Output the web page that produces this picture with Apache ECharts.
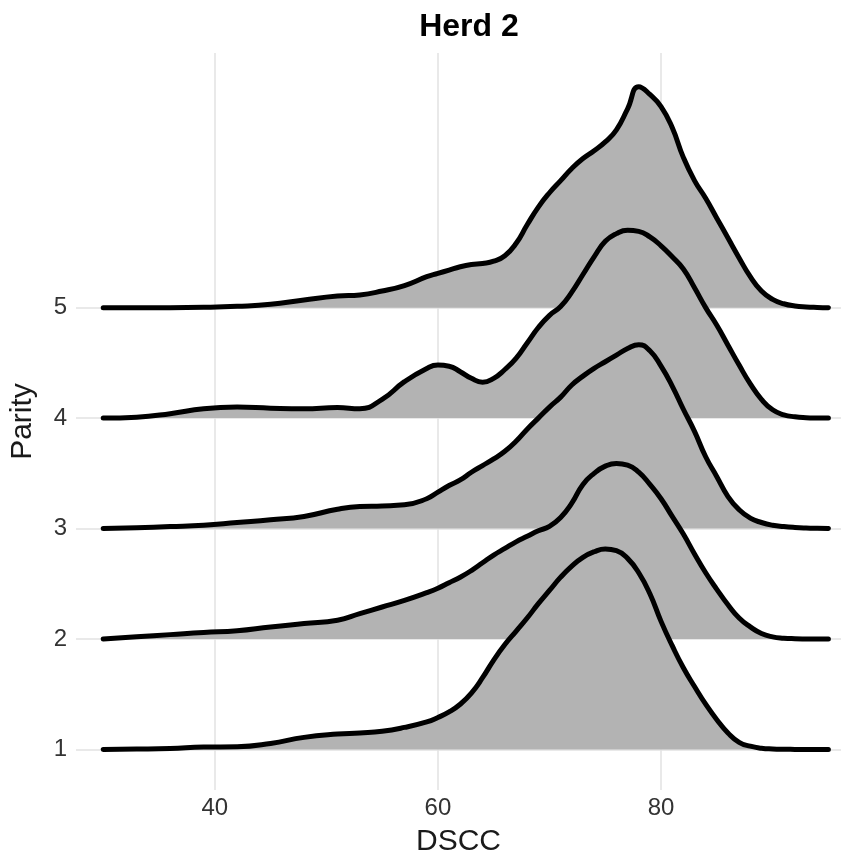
<!DOCTYPE html>
<html>
<head>
<meta charset="utf-8">
<title>Herd 2</title>
<script src="https://cdn.jsdelivr.net/npm/echarts@6/dist/echarts.min.js"></script>
<style>
  html, body { margin: 0; padding: 0; background: #fff; }
  #chart { width: 841px; height: 862px; }
</style>
</head>
<body>
<div id="chart"></div>
<script>
// DSCC grid shared by all density ridges
const dscc = [30, 33, 36, 39, 42, 45, 48, 51, 53, 55, 57, 59,
  60, 61, 62, 63, 64, 65, 66, 67, 68, 69, 70, 71, 72, 73, 74, 75, 76, 77, 78, 79,
  80, 81, 82, 83, 84, 85, 86, 87, 88, 89, 90, 91, 92, 93, 94, 95];

// Scaled density height of each parity ridge (in parity units above its baseline)
const parity1 = [0, 0.004, 0.01, 0.022, 0.025, 0.055, 0.11, 0.14, 0.15, 0.165, 0.2, 0.25,
  0.29, 0.34, 0.41, 0.51, 0.65, 0.81, 0.95, 1.07, 1.19, 1.32, 1.44, 1.56, 1.66, 1.74, 1.79, 1.815, 1.80, 1.73, 1.60, 1.41,
  1.16, 0.94, 0.74, 0.57, 0.41, 0.27, 0.15, 0.065, 0.03, 0.012, 0.005, 0.002, 0.001, 0, 0, 0];
const parity2 = [0, 0.02, 0.04, 0.06, 0.075, 0.11, 0.14, 0.17, 0.23, 0.29, 0.35, 0.42,
  0.46, 0.51, 0.56, 0.62, 0.69, 0.76, 0.82, 0.88, 0.93, 0.98, 1.02, 1.10, 1.23, 1.40, 1.50, 1.565, 1.59, 1.575, 1.51, 1.40,
  1.27, 1.11, 0.95, 0.77, 0.60, 0.45, 0.31, 0.19, 0.11, 0.05, 0.02, 0.008, 0.003, 0.001, 0, 0];
const parity3 = [0, 0.008, 0.018, 0.03, 0.055, 0.08, 0.11, 0.175, 0.2, 0.205, 0.215, 0.27,
  0.33, 0.39, 0.44, 0.51, 0.57, 0.63, 0.70, 0.79, 0.90, 1.00, 1.10, 1.19, 1.30, 1.38, 1.45, 1.51, 1.57, 1.63, 1.665, 1.61,
  1.47, 1.29, 1.08, 0.88, 0.65, 0.47, 0.29, 0.17, 0.095, 0.055, 0.03, 0.018, 0.01, 0.005, 0.002, 0];
const parity4 = [0, 0.008, 0.04, 0.085, 0.10, 0.09, 0.085, 0.095, 0.085, 0.17, 0.33, 0.45,
  0.48, 0.47, 0.42, 0.36, 0.325, 0.36, 0.44, 0.54, 0.68, 0.82, 0.93, 1.01, 1.14, 1.30, 1.46, 1.60, 1.67, 1.70, 1.69, 1.64,
  1.56, 1.46, 1.35, 1.18, 1.00, 0.84, 0.66, 0.48, 0.31, 0.17, 0.075, 0.03, 0.012, 0.004, 0.001, 0];
const parity5 = [0, 0, 0, 0.003, 0.012, 0.03, 0.07, 0.105, 0.115, 0.15, 0.2, 0.28,
  0.31, 0.34, 0.37, 0.39, 0.40, 0.42, 0.47, 0.58, 0.75, 0.91, 1.04, 1.15, 1.26, 1.35, 1.42, 1.50, 1.61, 1.80, 2.00, 1.93,
  1.82, 1.63, 1.36, 1.15, 0.99, 0.81, 0.63, 0.45, 0.28, 0.15, 0.075, 0.035, 0.015, 0.006, 0.002, 0];

const parityLevels = [1, 2, 3, 4, 5];
const ridges = [parity1, parity2, parity3, parity4, parity5];
const xTicks = [40, 60, 80];

const FONT = 'Liberation Sans, Arial, sans-serif';

// Upper ridges are drawn first so the lower ones overlap them
const series = [];
for (let k = parityLevels.length - 1; k >= 0; k--) {
  const level = parityLevels[k];
  const heights = ridges[k];
  series.push({
    name: 'Parity ' + level,
    type: 'line',
    smooth: 0.5,
    symbol: 'none',
    data: dscc.map((x, i) => [x, level + heights[i]]),
    lineStyle: { color: '#000', width: 5, cap: 'round', join: 'round' },
    areaStyle: { color: '#b3b3b3', opacity: 1, origin: level },
    silent: true
  });
}

const chart = echarts.init(document.getElementById('chart'), null, { renderer: 'canvas' });
chart.setOption({
  backgroundColor: '#ffffff',
  animation: false,
  title: {
    text: 'Herd 2',
    left: 464,
    top: 6,
    textAlign: 'center',
    textStyle: { fontFamily: FONT, fontWeight: 'bold', fontSize: 32, color: '#000' }
  },
  grid: { left: 73, right: 0, top: 53, bottom: 72, containLabel: false },
  xAxis: {
    type: 'value',
    min: 27.56,
    max: 96.13,
    name: 'DSCC',
    nameLocation: 'middle',
    nameGap: 37,
    nameTextStyle: { fontFamily: FONT, fontSize: 30, color: '#1a1a1a' },
    axisLine: { show: false },
    axisTick: { show: false, customValues: xTicks },
    axisLabel: { customValues: xTicks, fontFamily: FONT, fontSize: 24, color: '#333', margin: 6 },
    splitLine: { show: true, lineStyle: { color: '#e2e2e2', width: 1.5 } }
  },
  yAxis: {
    type: 'value',
    min: 0.6335,
    max: 7.305,
    name: 'Parity',
    nameLocation: 'middle',
    nameRotate: 90,
    nameGap: 38,
    nameTextStyle: { fontFamily: FONT, fontSize: 30, color: '#1a1a1a' },
    axisLine: { show: false },
    axisTick: { show: false, customValues: parityLevels },
    axisLabel: { customValues: parityLevels, fontFamily: FONT, fontSize: 24, color: '#333', margin: 9 },
    splitLine: { show: true, lineStyle: { color: '#e2e2e2', width: 1.5 } }
  },
  series: series
});
</script>
</body>
</html>
